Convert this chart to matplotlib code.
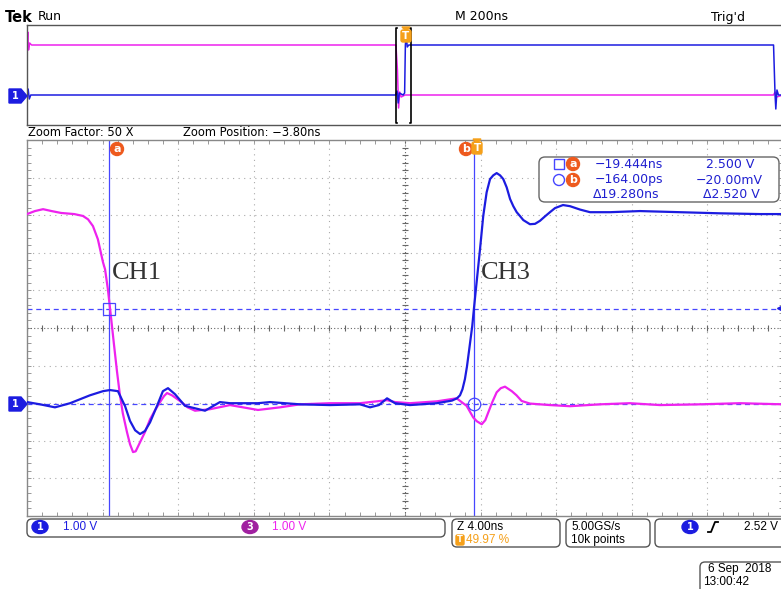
import matplotlib.pyplot as plt
from matplotlib.patches import FancyBboxPatch, Circle, Polygon, Ellipse
from matplotlib.ticker import FixedLocator
import numpy as np

# ------------------------------------------------------------------
#   data (zoom window, ns / V)
# ------------------------------------------------------------------
zoom_pos = -3.80      # ns, centre of zoom window
zoom_div = 4.0        # ns/div

cursor_a = (-19.444, 2.500)
cursor_b = (-0.164, -0.020)
trig_level = 2.52

magenta_t = [-23.8, -23.38, -22.95, -22.5, -22.0, -21.3, -20.84, -20.57, -20.31, -20.05,
             -19.78, -19.67, -19.52, -19.36, -19.2, -19.04, -18.89, -18.73, -18.51, -18.35,
             -18.19, -18.05, -17.82, -17.56, -17.29, -17.03, -16.76, -16.55, -16.39, -16.13,
             -15.71, -15.3, -14.91, -14.12, -13.06, -11.58, -10.41, -9.36, -7.77, -6.18,
             -4.75, -4.33, -3.54, -2.11, -1.07, -0.54, -0.19, 0.0, 0.26, 0.45,
             0.61, 0.82, 1.05, 1.27, 1.49, 1.85, 2.1, 2.37, 2.81, 3.87,
             4.93, 6.52, 8.1, 9.69, 11.81, 13.92, 16.2]
magenta_v = [5.03, 5.11, 5.16, 5.11, 5.06, 5.03, 4.98, 4.89, 4.71, 4.36,
             3.75, 3.56, 3.03, 2.31, 1.57, 0.85, 0.24, -0.27, -0.77, -1.09,
             -1.30, -1.28, -1.04, -0.77, -0.43, -0.19, 0.03, 0.19, 0.27, 0.21,
             0.06, -0.11, -0.20, -0.16, -0.05, -0.18, -0.11, -0.03, 0.0, 0.0,
             0.08, 0.03, 0.0, 0.05, 0.13, -0.07, -0.38, -0.48, -0.56, -0.45,
             -0.24, 0.03, 0.29, 0.40, 0.44, 0.32, 0.21, 0.06, -0.01, -0.05,
             -0.08, -0.03, 0.0, -0.05, -0.03, 0.0, -0.03]

blue_t = [-23.8, -23.11, -22.32, -21.52, -20.47, -19.78, -19.41, -18.99, -18.61, -18.35,
          -18.08, -17.82, -17.56, -17.29, -16.92, -16.61, -16.34, -15.97, -15.44, -14.38,
          -13.59, -13.06, -11.58, -10.94, -9.36, -7.77, -6.18, -5.65, -5.18, -4.75,
          -4.33, -3.54, -2.11, -1.31, -1.05, -0.89, -0.76, -0.63, -0.52, -0.40,
          -0.24, -0.15, -0.01, 0.17, 0.34, 0.52, 0.70, 0.87, 1.05, 1.23,
          1.40, 1.58, 1.76, 1.93, 2.11, 2.28, 2.46, 2.81, 3.08, 3.34,
          3.61, 3.87, 4.14, 4.56, 4.93, 5.46, 5.99, 7.05, 8.63, 10.74,
          12.87, 14.98, 16.2]
blue_v = [0.03, -0.03, -0.11, 0.0, 0.21, 0.32, 0.35, 0.32, -0.08, -0.47,
          -0.72, -0.82, -0.74, -0.51, -0.07, 0.32, 0.40, 0.24, -0.07, -0.20,
          0.03, 0.0, 0.0, 0.03, -0.03, -0.05, -0.03, -0.11, -0.05, 0.13,
          0.0, -0.05, 0.0, 0.07, 0.13, 0.21, 0.37, 0.64, 0.98, 1.44,
          2.06, 2.53, 3.22, 4.10, 4.98, 5.61, 5.96, 6.06, 6.12, 6.06,
          5.96, 5.74, 5.43, 5.24, 5.08, 4.98, 4.87, 4.76, 4.77, 4.85,
          4.97, 5.08, 5.19, 5.27, 5.24, 5.15, 5.08, 5.08, 5.11, 5.08,
          5.05, 5.03, 5.03]

# overview record (200 ns/div)
magenta_top_t = [-1000, -998, -996, -993, -988, -24, -20, -17, -14, -10, 0, 10, 975, 979, 983, 1000]
magenta_top_v = [5.0, 6.3, 4.5, 5.2, 5.0, 5.0, 2.5, -1.3, 0.3, -0.2, 0.0, 0.0, 0.0, 0.3, -0.2, 0.0]
blue_top_t = [-1000, -997, -994, -990, -25, -21, -18, -15, -5, -1, 1, 3, 6, 10, 975, 979, 981, 984, 988, 1000]
blue_top_v = [0.0, 0.6, -0.4, 0.0, 0.0, 0.4, -0.8, 0.2, 0.0, 0.2, 5.0, 6.1, 4.8, 5.0, 5.0, 0.0, -1.4, 0.5, 0.0, 0.0]

BLUE = '#1c1ce0'
MAG = '#ee22ee'
CUR = '#4646ff'
ORANGE = '#ee5a1e'
TORANGE = '#f5a01a'

W, H = 781, 589
fig = plt.figure(figsize=(W / 100, H / 100), dpi=100)
fig.patch.set_facecolor('white')


def px_axes(x0, y0, x1, y1):
    return fig.add_axes([x0 / W, 1 - y1 / H, (x1 - x0) / W, (y1 - y0) / H])


# ------------------------------------------------------------------
#   overview panel
# ------------------------------------------------------------------
top = px_axes(27, 25, 783, 125)
top.set_xlim(-1000, 1000)
top.set_ylim(-3, 7)
top.set_xticks([])
top.set_yticks([])
for s in top.spines.values():
    s.set_color('#555555')
    s.set_linewidth(1.0)
top.plot(magenta_top_t, magenta_top_v, color=MAG, lw=1.1)
top.plot(blue_top_t, blue_top_v, color=BLUE, lw=1.1)
# zoom bracket
zl, zr = zoom_pos - 5 * zoom_div, zoom_pos + 5 * zoom_div
top.plot([zl + 3, zl, zl, zl + 3], [6.7, 6.7, -2.8, -2.8], color='black', lw=1.2)
top.plot([zr - 3, zr, zr, zr - 3], [6.7, 6.7, -2.8, -2.8], color='black', lw=1.2)

# ------------------------------------------------------------------
#   zoom panel
# ------------------------------------------------------------------
ax = px_axes(27, 140, 783, 516)
xmin, xmax = zoom_pos - 5 * zoom_div, zoom_pos + 5 * zoom_div
ax.set_xlim(xmin, xmax)
ax.set_ylim(-3, 7)
for s in ax.spines.values():
    s.set_color('#888888')
    s.set_linewidth(1.0)
ax.xaxis.set_major_locator(FixedLocator([]))
ax.yaxis.set_major_locator(FixedLocator([]))
ax.xaxis.set_minor_locator(FixedLocator(np.arange(xmin, xmax + 0.01, zoom_div / 5)))
ax.yaxis.set_minor_locator(FixedLocator(np.arange(-3, 7.01, 0.2)))
ax.tick_params(which='minor', direction='in', length=3, color='#888888',
               top=True, right=True, labelbottom=False, labelleft=False)

for k in range(1, 10):
    if k == 5:
        continue
    ax.axvline(xmin + k * zoom_div, color='#aaaaaa', lw=0.8, ls=(0, (1, 4)))
for yv in range(-2, 7):
    if yv == 2:
        continue
    ax.axhline(yv, color='#aaaaaa', lw=0.8, ls=(0, (1, 4)))
# centre cross with ticks
ax.axvline(zoom_pos, color='#666666', lw=0.8, ls=(0, (1, 2)))
ax.axhline(2, color='#666666', lw=0.8, ls=(0, (1, 2)))
cx = np.arange(xmin, xmax + 0.01, zoom_div / 5)
cy = np.arange(-3, 7.01, 0.2)
ax.plot(cx, np.full(len(cx), 2.0), ls='none', marker='|', ms=5, color='#666666', mew=0.8)
ax.plot(np.full(len(cy), zoom_pos), cy, ls='none', marker='_', ms=5, color='#666666', mew=0.8)

# cursors
ax.axvline(cursor_a[0], color=CUR, lw=0.9)
ax.axvline(cursor_b[0], color=CUR, lw=0.9)
ax.axhline(cursor_a[1], color=CUR, lw=0.9, ls=(0, (4, 3)))
ax.axhline(cursor_b[1], color=CUR, lw=0.9, ls=(0, (4, 3)))

ax.plot(magenta_t, magenta_v, color=MAG, lw=1.6, zorder=5, solid_joinstyle='round')
ax.plot(blue_t, blue_v, color=BLUE, lw=1.6, zorder=6, solid_joinstyle='round')

ax.plot(cursor_a[0], cursor_a[1], marker='s', mfc='none', mec=CUR, ms=9, mew=0.9, zorder=7)
ax.plot(cursor_b[0], cursor_b[1], marker='o', mfc='none', mec=CUR, ms=9, mew=0.9, zorder=7)
ax.plot(xmax - 0.08, trig_level, marker='<', color=BLUE, ms=6, clip_on=False, zorder=7)

ax.text(-19.3, 3.3, 'CH1', fontsize=19, family='Liberation Serif', color='#333333')
ax.text(0.2, 3.3, 'CH3', fontsize=19, family='Liberation Serif', color='#333333')

# ------------------------------------------------------------------
#   overlay: status text, badges and boxes (pixel coordinates)
# ------------------------------------------------------------------
ov = fig.add_axes([0, 0, 1, 1], facecolor='none')
ov.set_xlim(0, W)
ov.set_ylim(H, 0)
ov.axis('off')

ov.text(5, 17, 'Tek', fontsize=10.5, fontweight='bold', va='center')
ov.text(38, 17, 'Run', fontsize=9, va='center')
ov.text(455, 17, 'M 200ns', fontsize=9, va='center')
ov.text(711, 17, "Trig'd", fontsize=9, va='center')
ov.text(28, 133, 'Zoom Factor: 50 X', fontsize=8.3, va='center')
ov.text(183, 133, 'Zoom Position: \u22123.80ns', fontsize=8.3, va='center')


def ground_marker(y):
    ov.add_patch(Polygon([(9, y - 7), (21, y - 7), (27, y), (21, y + 7), (9, y + 7)],
                         closed=True, color=BLUE))
    ov.text(15, y, '1', color='white', fontsize=7, fontweight='bold', ha='center', va='center')


ground_marker(404)
ground_marker(96)


def letter_badge(x, y, s):
    ov.add_patch(Circle((x, y), 6.5, color=ORANGE))
    ov.text(x, y, s, color='white', fontsize=8, fontweight='bold', ha='center', va='center')


def t_badge(x, y, tri=True):
    ov.add_patch(FancyBboxPatch((x - 5, y - 6), 10, 12, boxstyle='round,pad=0,rounding_size=2',
                                color=TORANGE))
    ov.text(x, y, 'T', color='white', fontsize=7.5, fontweight='bold', ha='center', va='center')
    if tri:
        ov.add_patch(Polygon([(x - 4, y - 9), (x + 4, y - 9), (x, y - 5)], color=TORANGE))


letter_badge(117, 149, 'a')
letter_badge(466, 149, 'b')
t_badge(477, 148)
t_badge(406, 36)

# cursor readout
ov.add_patch(FancyBboxPatch((539, 157), 240, 45, boxstyle='round,pad=0,rounding_size=6',
                            fc='white', ec='#666666', lw=1.0))
ov.add_patch(FancyBboxPatch((554, 159), 10, 10, boxstyle='square,pad=0', fc='none', ec=CUR, lw=1))
ov.add_patch(Circle((559, 180), 5.5, fc='none', ec=CUR, lw=1))
letter_badge(573, 164, 'a')
letter_badge(573, 180, 'b')
rc = '#2020d0'
fs = 9
ov.text(595, 164, '\u221219.444ns', color=rc, fontsize=fs, va='center')
ov.text(595, 180, '\u2212164.00ps', color=rc, fontsize=fs, va='center')
ov.text(593, 195, '\u039419.280ns', color=rc, fontsize=fs, va='center')
ov.text(754, 164, '2.500 V', color=rc, fontsize=fs, va='center', ha='right')
ov.text(763, 180, '\u221220.00mV', color=rc, fontsize=fs, va='center', ha='right')
ov.text(760, 195, '\u03942.520 V', color=rc, fontsize=fs, va='center', ha='right')


# bottom boxes
def box(x0, y0, x1, y1):
    ov.add_patch(FancyBboxPatch((x0, y0), x1 - x0, y1 - y0, boxstyle='round,pad=0,rounding_size=5',
                                fc='white', ec='#555555', lw=1.0))


box(27, 519, 445, 537)
box(452, 519, 560, 547)
box(566, 519, 650, 547)
box(655, 519, 790, 547)
box(700, 562, 790, 595)

ov.add_patch(Ellipse((40, 527), 16, 13, color=BLUE))
ov.text(40, 527, '1', color='white', fontsize=7, fontweight='bold', ha='center', va='center')
ov.text(63, 527, '1.00 V', color=BLUE, fontsize=8.5, va='center', family='Liberation Sans')
ov.add_patch(Ellipse((250, 527), 16, 13, color='#a020a0'))
ov.text(250, 527, '3', color='white', fontsize=7, fontweight='bold', ha='center', va='center')
ov.text(272, 527, '1.00 V', color=MAG, fontsize=8.5, va='center', family='Liberation Sans')

ov.text(457, 527, 'Z 4.00ns', fontsize=8.5, va='center', family='Liberation Sans')
ov.add_patch(FancyBboxPatch((456, 535), 8, 10, boxstyle='round,pad=0,rounding_size=1.5', color=TORANGE))
ov.text(460, 540, 'T', color='white', fontsize=6, fontweight='bold', ha='center', va='center')
ov.text(466, 540, '49.97 %', color=TORANGE, fontsize=8.5, va='center', family='Liberation Sans')

ov.text(571, 527, '5.00GS/s', fontsize=8.5, va='center', family='Liberation Sans')
ov.text(571, 540, '10k points', fontsize=8.5, va='center', family='Liberation Sans')

ov.add_patch(Ellipse((690, 527), 16, 13, color=BLUE))
ov.text(690, 527, '1', color='white', fontsize=7, fontweight='bold', ha='center', va='center')
ov.plot([708, 711, 715, 718], [532, 532, 522, 522], color='black', lw=1.3)
ov.text(778, 527, '2.52 V', fontsize=8.5, va='center', ha='right', family='Liberation Sans')

ov.text(708, 569, '6 Sep  2018', fontsize=8.5, va='center', family='Liberation Sans')
ov.text(703, 582, '13:00:42', fontsize=8.5, va='center', family='Liberation Sans')

fig.savefig('out.png', dpi=100)
